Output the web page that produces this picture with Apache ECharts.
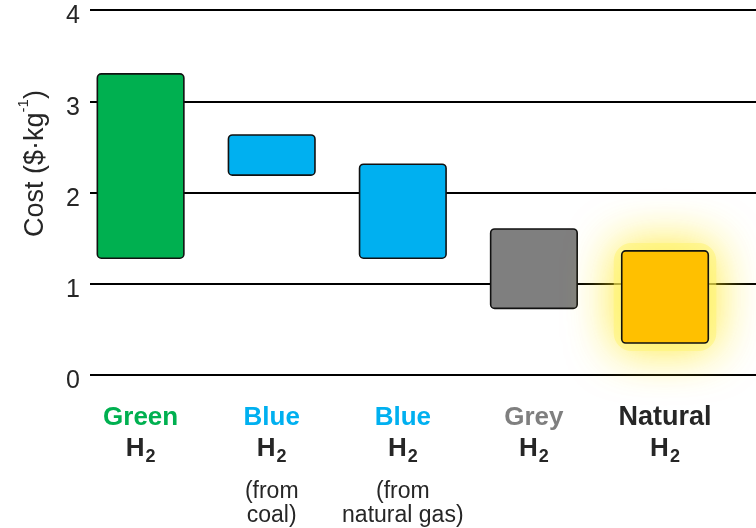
<!DOCTYPE html>
<html>
<head>
<meta charset="utf-8">
<script src="https://cdn.jsdelivr.net/npm/echarts@6.0.0/dist/echarts.min.js"></script>
<style>
html,body{margin:0;padding:0;background:#fff;}
#chart{width:756px;height:528px;}
</style>
</head>
<body>
<div id="chart"></div>
<script>
var categories = ['Green', 'Blue', 'Blue', 'Grey', 'Natural'];
var notes = ['', '(from\ncoal)', '(from\nnatural gas)', '', ''];
var lowValues = [1.28, 2.19, 1.28, 0.73, 0.35];
var highValues = [3.30, 2.63, 2.31, 1.60, 1.36];
var barColors = ['#00B050', '#00B0F0', '#00B0F0', '#7F7F7F', '#FFC000'];
var labelStyles = ['cg', 'cb', 'cb', 'cgr', 'cn'];
var yTicks = [0, 1, 2, 3, 4];
var glow = [false, false, false, false, true];

var FONT = '"Liberation Sans", Arial, sans-serif';
var data = categories.map(function (c, i) {
  return [i, lowValues[i], highValues[i]];
});

function catLabel(v) {
  var i = Math.round(v);
  var s = '{' + labelStyles[i] + '|' + categories[i] + '}\n{h|H}{sub|2}';
  if (notes[i]) {
    var parts = notes[i].split('\n');
    s += '\n{p1|' + parts[0] + '}\n{p|' + parts[1] + '}';
  }
  return s;
}

var chart = echarts.init(document.getElementById('chart'));
chart.setOption({
  animation: false,
  backgroundColor: '#ffffff',
  grid: { left: 90, right: 0, top: 10, bottom: 153, outerBoundsMode: 'none', containLabel: false },
  xAxis: {
    type: 'value',
    min: -0.386,
    max: 4.694,
    axisLine: { show: false },
    axisTick: { show: false },
    splitLine: { show: false },
    axisLabel: {
      customValues: [0, 1, 2, 3, 4],
      margin: 27,
      formatter: catLabel,
      fontFamily: FONT,
      rich: {
        cg: { fontSize: 26, fontWeight: 'bold', lineHeight: 32, color: '#00B050', fontFamily: FONT },
        cb: { fontSize: 26, fontWeight: 'bold', lineHeight: 32, color: '#00B0F0', fontFamily: FONT },
        cgr: { fontSize: 26, fontWeight: 'bold', lineHeight: 32, color: '#7F7F7F', fontFamily: FONT },
        cn: { fontSize: 27, fontWeight: 'bold', lineHeight: 32, color: '#262626', fontFamily: FONT },
        h: { fontSize: 26, fontWeight: 'bold', lineHeight: 30, color: '#262626', fontFamily: FONT },
        sub: { fontSize: 18, fontWeight: 'bold', lineHeight: 20, padding: [16, 0, 0, 1], color: '#262626', fontFamily: FONT },
        p1: { fontSize: 23, lineHeight: 40, padding: [16, 0, 0, 0], color: '#262626', fontFamily: FONT },
        p: { fontSize: 23, lineHeight: 24, color: '#262626', fontFamily: FONT }
      }
    }
  },
  yAxis: {
    type: 'value',
    min: 0,
    max: 4,
    interval: 1,
    name: '{a|Cost ($·kg}{s|-1}{a|)}',
    nameLocation: 'middle',
    nameRotate: 90,
    nameGap: 47,
    nameTextStyle: {
      padding: [0, 0, 0, 58],
      rich: {
        a: { fontSize: 27, lineHeight: 27, verticalAlign: 'top', padding: [6, 0, 0, 0], color: '#262626', fontFamily: FONT },
        s: { fontSize: 15, lineHeight: 15, verticalAlign: 'top', padding: [0, 0, 0, 0], color: '#262626', fontFamily: FONT }
      }
    },
    axisLine: { show: false },
    axisTick: { show: false },
    axisLabel: {
      margin: 10,
      color: '#262626',
      fontFamily: FONT,
      formatter: function (v) { return yTicks.indexOf(v) >= 0 ? '{t|' + v + '}' : ''; },
      rich: {
        t: { fontSize: 25, lineHeight: 28, padding: [13, 0, 0, 0], color: '#262626', fontFamily: FONT }
      }
    },
    splitLine: { lineStyle: { color: '#000000', width: 2.2 } }
  },
  series: [{
    type: 'custom',
    data: data,
    encode: { x: 0, y: [1, 2] },
    renderItem: function (params, api) {
      var i = api.value(0);
      var lo = api.coord([i, api.value(1)]);
      var hi = api.coord([i, api.value(2)]);
      var w = api.size([1, 0])[0] * 0.66;
      var shape = { x: lo[0] - w / 2, y: hi[1], width: w, height: lo[1] - hi[1], r: 4 };
      var main = {
        type: 'rect',
        shape: shape,
        style: { fill: barColors[i], stroke: '#111111', lineWidth: 1.6 }
      };
      if (!glow[i]) return main;
      return {
        type: 'group',
        children: [
          {
            type: 'rect',
            shape: { x: shape.x, y: shape.y, width: shape.width, height: shape.height, r: 10 },
            style: {
              fill: '#FFF36A',
              stroke: 'rgba(255,243,110,0.6)',
              lineWidth: 16,
              shadowBlur: 46,
              shadowColor: 'rgba(255,232,20,1)',
              opacity: 0.85
            }
          },
          main
        ]
      };
    }
  }]
});
</script>
</body>
</html>
